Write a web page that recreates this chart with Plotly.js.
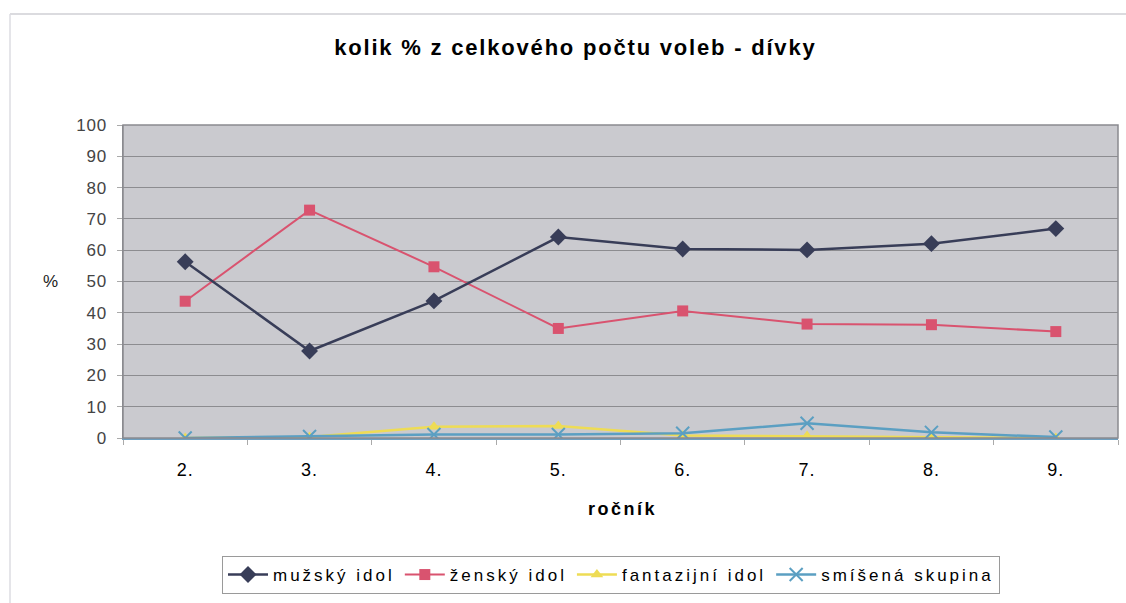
<!DOCTYPE html>
<html>
<head>
<meta charset="utf-8">
<script src="https://cdn.plot.ly/plotly-3.0.1.min.js"></script>
<style>
html,body{margin:0;padding:0;background:#fff;}
#chart{width:1126px;height:603px;}
.gtitle{letter-spacing:1.8px;}
.legendtext{letter-spacing:3px;}
.annotation-text{letter-spacing:2.5px;}
.xtick text{letter-spacing:1px;}
.ytick text{letter-spacing:0.8px;}
</style>
</head>
<body>
<div id="chart"></div>
<script>
const categories = ["2.", "3.", "4.", "5.", "6.", "7.", "8.", "9."];
const muzskyIdol = [56.3, 27.8, 43.8, 64.2, 60.4, 60.1, 62.1, 66.9];
const zenskyIdol = [43.7, 72.8, 54.7, 35.0, 40.6, 36.4, 36.2, 34.0];
const fantazijniIdol = [0.0, 0.3, 3.6, 3.8, 0.8, 0.6, 0.3, 0.0];
const smisenaSkupina = [0.0, 0.5, 1.1, 1.1, 1.5, 4.7, 1.8, 0.3];
const seriesNames = ["mužský idol", "ženský idol", "fantazijní idol", "smíšená skupina"];
const yTicks = [0, 10, 20, 30, 40, 50, 60, 70, 80, 90, 100];

const font = "Liberation Sans, Arial, sans-serif";

const traces = [
  {x: categories, y: fantazijniIdol, name: seriesNames[2], mode: "lines+markers",
   line: {color: "#eedc55", width: 2.5},
   marker: {symbol: "triangle-up", size: 11, color: "#eedc55"}, legendrank: 3},
  {x: categories, y: smisenaSkupina, name: seriesNames[3], mode: "lines+markers",
   line: {color: "#5b9fc2", width: 2.5},
   marker: {symbol: "x-thin-open", size: 13, line: {color: "#5b9fc2", width: 2}}, legendrank: 4},
  {x: categories, y: zenskyIdol, name: seriesNames[1], mode: "lines+markers",
   line: {color: "#d9536f", width: 2},
   marker: {symbol: "square", size: 11, color: "#d9536f"}, legendrank: 2},
  {x: categories, y: muzskyIdol, name: seriesNames[0], mode: "lines+markers",
   line: {color: "#383d58", width: 2.5},
   marker: {symbol: "diamond", size: 13, color: "#383d58"}, legendrank: 1}
];

const layout = {
  width: 1126, height: 603,
  margin: {l: 123, r: 8, t: 125, b: 165},
  paper_bgcolor: "#ffffff",
  plot_bgcolor: "#cacacf",
  font: {family: font, size: 16, color: "#111"},
  showlegend: true,
  title: {text: "<b>kolik % z celkového počtu voleb - dívky</b>",
          font: {family: font, size: 22, color: "#000"},
          x: 0.511, xanchor: "center", y: 0.922, yanchor: "middle"},
  xaxis: {
    type: "category", range: [-0.5, 7.5],
    showgrid: false, zeroline: false,
    showline: true, linecolor: "#6f9fbf", linewidth: 2,
    ticks: "outside", tickson: "boundaries", ticklen: 5, tickcolor: "#aaa",
    tickfont: {family: font, size: 18, color: "#000"},
    ticklabelstandoff: 14,
    mirror: false
  },
  yaxis: {
    range: [0, 100], tickvals: yTicks,
    showgrid: true, gridcolor: "#8c8c90", gridwidth: 1,
    zeroline: false,
    showline: true, linecolor: "#8a8a8e", linewidth: 1.5,
    ticks: "outside", ticklen: 5, tickcolor: "#aaa",
    tickfont: {family: font, size: 17, color: "#444"},
    ticklabelstandoff: 6
  },
  annotations: [
    {text: "%", xref: "paper", yref: "paper", x: (52 - 123) / 995, y: (438 - 281) / 313,
     xanchor: "center", yanchor: "middle", showarrow: false,
     font: {family: font, size: 17, color: "#222"}},
    {text: "<b>ročník</b>", xref: "paper", yref: "paper", x: (622 - 123) / 995, y: (438 - 509) / 313,
     xanchor: "center", yanchor: "middle", showarrow: false,
     font: {family: font, size: 18, color: "#000"}}
  ],
  shapes: [
    {type: "rect", xref: "paper", yref: "paper", layer: "above",
     x0: 0, x1: 1, y0: 0, y1: 1, line: {color: "#8a8a90", width: 1.5}},
    {type: "line", xref: "paper", yref: "paper",
     x0: (10 - 123) / 995, x1: (1130 - 123) / 995, y0: (438 - 14) / 313, y1: (438 - 14) / 313,
     line: {color: "#cfcfd4", width: 1.5}},
    {type: "line", xref: "paper", yref: "paper",
     x0: (10 - 123) / 995, x1: (10 - 123) / 995, y0: (438 - 14) / 313, y1: (438 - 610) / 313,
     line: {color: "#dcdce2", width: 1.5}}
  ],
  legend: {
    orientation: "h", x: (222 - 123) / 995, xanchor: "left",
    y: (438 - 556) / 313, yanchor: "top",
    bgcolor: "#ffffff", bordercolor: "#9a9a9a", borderwidth: 1,
    font: {family: font, size: 17, color: "#000"},
    itemwidth: 40, tracegroupgap: 0, traceorder: "normal"
  }
};

Plotly.newPlot("chart", traces, layout, {displayModeBar: false, staticPlot: true});
</script>
</body>
</html>
